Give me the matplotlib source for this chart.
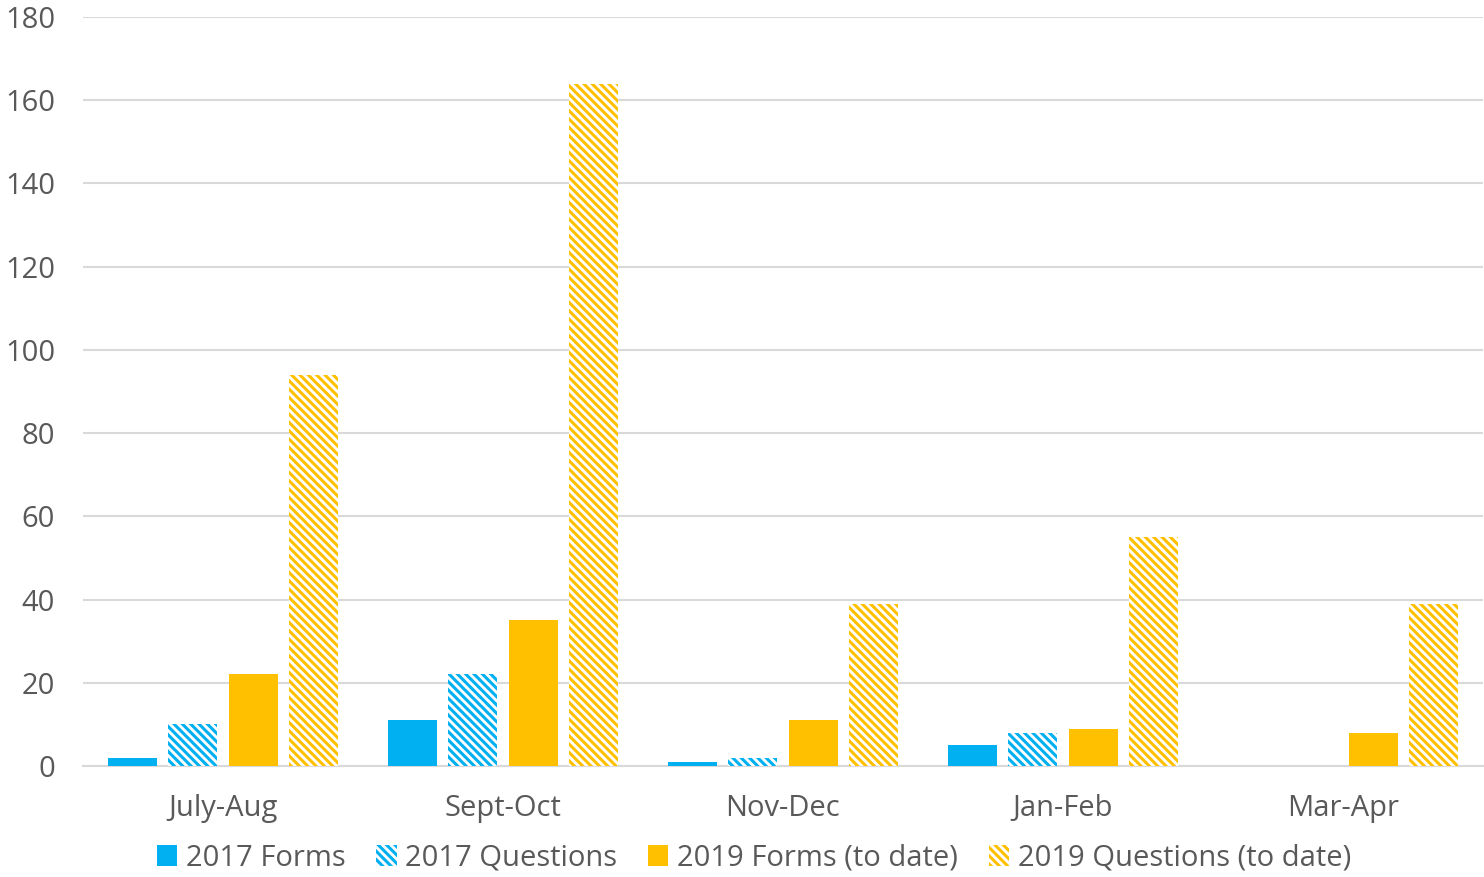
import matplotlib
matplotlib.use('Agg')
import matplotlib.pyplot as plt
import numpy as np

categories = ['July-Aug', 'Sept-Oct', 'Nov-Dec', 'Jan-Feb', 'Mar-Apr']
forms_2017 = [2, 11, 1, 5, 0]
questions_2017 = [10, 22, 2, 8, 0]
forms_2019 = [22, 35, 11, 9, 8]
questions_2019 = [94, 164, 39, 55, 39]

blue = '#00b0f0'
gold = '#ffc000'
grey_text = '#595959'

plt.rcParams['font.family'] = ['Open Sans', 'DejaVu Sans']
plt.rcParams['hatch.linewidth'] = 2.2

fig = plt.figure(figsize=(14.84, 8.77), dpi=100)
ax = fig.add_axes([83 / 1484, 1 - 766 / 877, 1400 / 1484, (766 - 17) / 877])

x = np.arange(len(categories))
pitch = 0.216
width = 0.176
offsets = [-1.5, -0.5, 0.5, 1.5]

stripes = '\\' * 4
series = [
    (forms_2017, '2017 Forms', blue, None),
    (questions_2017, '2017 Questions', blue, stripes),
    (forms_2019, '2019 Forms (to date)', gold, None),
    (questions_2019, '2019 Questions (to date)', gold, stripes),
]

for (vals, label, color, hatch), off in zip(series, offsets):
    if hatch:
        ax.bar(x + off * pitch, vals, width, facecolor='white', edgecolor=color,
               hatch=hatch, linewidth=0, label=label, zorder=3)
    else:
        ax.bar(x + off * pitch, vals, width, color=color, linewidth=0,
               label=label, zorder=3)

ax.set_xlim(-0.5, 4.5)
ax.set_ylim(0, 180)
ax.set_yticks(range(0, 181, 20))
ax.set_xticks(x)
ax.set_xticklabels(categories)
ax.yaxis.grid(True, color='#d9d9d9', linewidth=1.5, zorder=0)
ax.set_axisbelow(True)
for s in ['top', 'right', 'left']:
    ax.spines[s].set_visible(False)
ax.spines['bottom'].set_color('#d9d9d9')
ax.spines['bottom'].set_linewidth(1.5)
ax.tick_params(axis='both', length=0, labelsize=21, labelcolor=grey_text)
ax.tick_params(axis='y', pad=20)
ax.tick_params(axis='x', pad=20)

fig.legend(loc='center', bbox_to_anchor=(754 / 1484, 1 - 858 / 877), ncol=4,
           frameon=False, fontsize=21, labelcolor=grey_text,
           handlelength=0.7, handleheight=0.7, handletextpad=0.3,
           columnspacing=1.05)

fig.savefig('out.png', dpi=100)
